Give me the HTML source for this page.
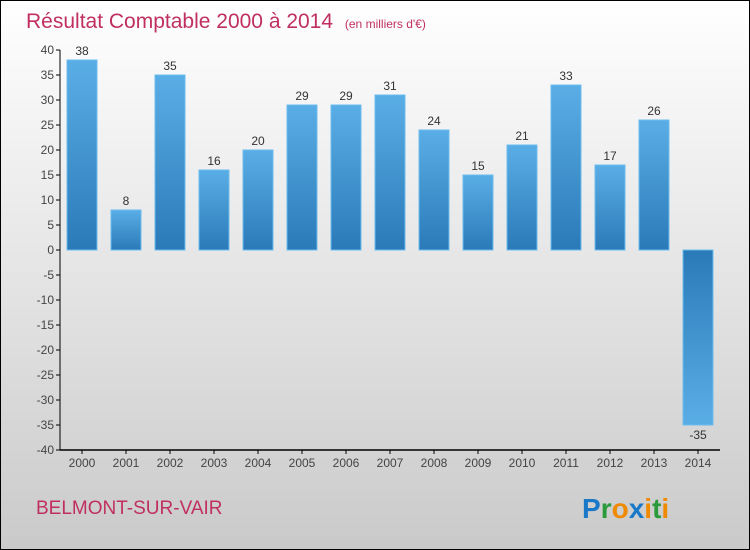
<!DOCTYPE html>
<html><head><meta charset="utf-8"><style>
body{margin:0}
svg{display:block;font-family:"Liberation Sans",sans-serif}
</style></head><body>
<svg id="c" width="750" height="550" xmlns="http://www.w3.org/2000/svg">
<defs>
<linearGradient id="bg" x1="0" y1="0" x2="0" y2="1"><stop offset="0" stop-color="#ffffff"/><stop offset="1" stop-color="#cacaca"/></linearGradient>
<linearGradient id="bp" x1="0" y1="0" x2="0" y2="1"><stop offset="0" stop-color="#5aaee6"/><stop offset="1" stop-color="#2a7ab8"/></linearGradient>
<linearGradient id="bn" x1="0" y1="0" x2="0" y2="1"><stop offset="0" stop-color="#2a7ab8"/><stop offset="1" stop-color="#5aaee6"/></linearGradient>
</defs>
<rect x="0.5" y="0.5" width="749" height="549" fill="url(#bg)" stroke="#000"/>
<text x="26" y="28" font-size="21" fill="#c0305f">Résultat Comptable 2000 à 2014 <tspan font-size="12" dx="6">(en milliers d'€)</tspan></text>
<text x="36" y="514" font-size="19" fill="#c0305f">BELMONT-SUR-VAIR</text>
<text x="582" y="518" font-size="28" font-weight="bold"><tspan fill="#1a78c8">P</tspan><tspan fill="#2a9a3a">r</tspan><tspan fill="#f08a00">o</tspan><tspan fill="#1a78c8">x</tspan><tspan fill="#f08a00">i</tspan><tspan fill="#2a9a3a">t</tspan><tspan fill="#f08a00">i</tspan></text>
<g id="g"></g>
</svg>
<script>
const categories=["2000","2001","2002","2003","2004","2005","2006","2007","2008","2009","2010","2011","2012","2013","2014"];
const values=[38,8,35,16,20,29,29,31,24,15,21,33,17,26,-35];
const yTicks=[40,35,30,25,20,15,10,5,0,-5,-10,-15,-20,-25,-30,-35,-40];
const NS="http://www.w3.org/2000/svg";
const g=document.getElementById('g');
const y=v=>250-v*5;
const x=i=>82+i*44;
function mk(t,a,p){const e=document.createElementNS(NS,t);for(const k in a)e.setAttribute(k,a[k]);(p||g).appendChild(e);return e;}
let e=mk('line',{x1:60,y1:50,x2:60,y2:450,stroke:'#000'});


e=mk('line',{x1:60,y1:450,x2:720,y2:450,stroke:'#000','stroke-width':1.5});


yTicks.forEach(v=>{
 mk('line',{x1:56,y1:y(v),x2:60,y2:y(v),stroke:'#000'});
 const t=mk('text',{x:54,y:y(v)+4,'text-anchor':'end','font-size':12,fill:'#444'});t.textContent=v;
 
 
});
categories.forEach((c,i)=>{
 mk('line',{x1:x(i),y1:450,x2:x(i),y2:454,stroke:'#000'});
 const t=mk('text',{x:x(i),y:467,'text-anchor':'middle','font-size':12,fill:'#444'});t.textContent=c;
 
 
 const v=values[i];
 const r=mk('rect',{x:x(i)-15,y:Math.min(y(v),y(0)),width:30,height:Math.abs(y(v)-y(0)),fill:v>=0?'url(#bp)':'url(#bn)',stroke:'#6bbcef','stroke-width':1});
 
 
 const l=mk('text',{x:x(i),y:v>=0?y(v)-5:y(v)+14,'text-anchor':'middle','font-size':12,fill:'#333'});l.textContent=v;
 
 
});
</script>
</body></html>
